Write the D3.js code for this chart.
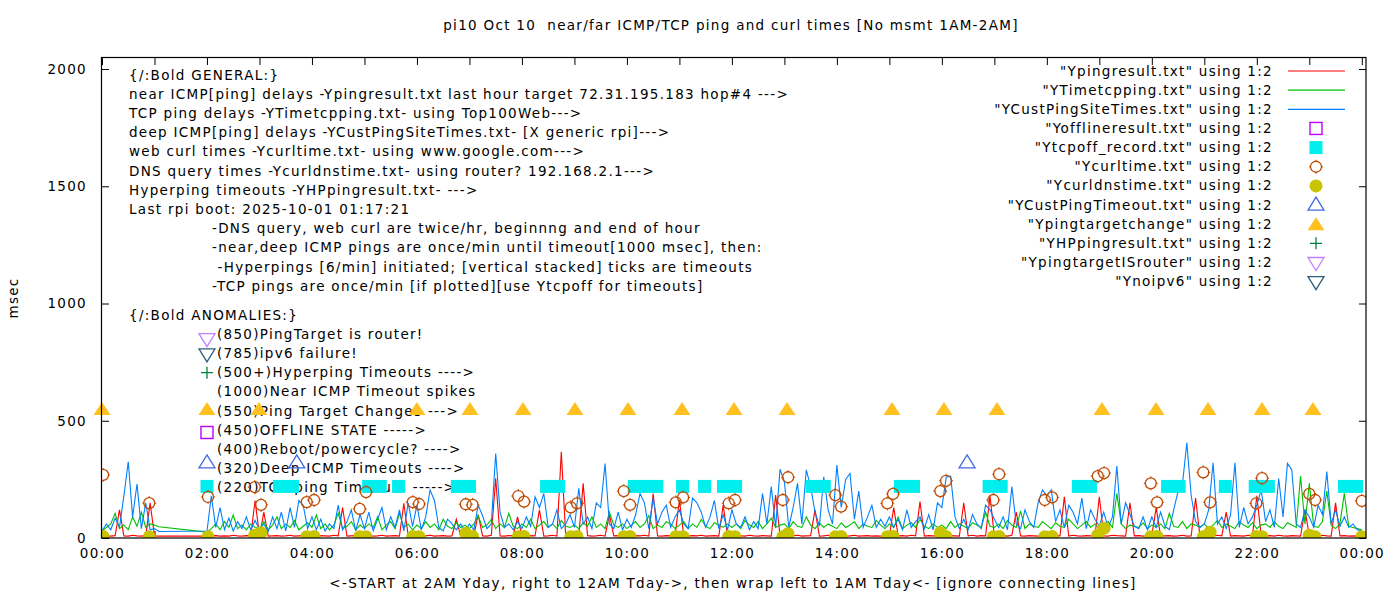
<!DOCTYPE html>
<html>
<head>
<meta charset="utf-8">
<script src="https://cdn.jsdelivr.net/npm/d3@7"></script>
<style>
body { margin: 0; background: #fff; }
text { font-family: "DejaVu Sans", sans-serif; font-size: 13.5px; letter-spacing: 1.3px; fill: #000; white-space: pre; }
</style>
</head>
<body>
<svg id="chart" width="1400" height="600"></svg>
<script>
// ---- data ----
var STEP_MIN = 5;   // one value every 5 minutes, 00:00 .. 24:00

// YCustPingSiteTimes.txt (blue) - deep ICMP ping delays
var custPing = [
  30, 60, 35, 85, 45, 180, 325, 90, 230, 40, 150, 35,
  40, 28, null, null, null, null, null, null, null, null, null, null,
  30, 180, 45, 130, 35, 85, 30, 70, 40, 90, 35, 75,
  35, 60, 28, 90, 40, 110, 30, 130, 45, 160, 140, 40,
  90, 35, 80, 30, 60, 40, 140, 35, 70, 120, 30, 100,
  40, 110, 30, 80, 130, 35, 90, 45, 120, 30, 150, 50,
  140, 35, 90, 205, 160, 45, 30, 80, 60, 35, 60, 30,
  60, 35, 140, 95, 40, 60, 360, 110, 45, 60, 35, 70,
  40, 90, 50, 176, 130, 190, 45, 60, 120, 40, 60, 100,
  45, 212, 60, 90, 40, 150, 130, 318, 60, 40, 110, 35,
  80, 45, 100, 190, 150, 40, 170, 60, 110, 140, 45, 90,
  120, 60, 40, 170, 150, 110, 45, 90, 160, 40, 100, 35,
  120, 60, 45, 90, 35, 70, 40, 190, 60, 219, 45, 293,
  240, 45, 130, 233, 60, 290, 220, 110, 50, 261, 120, 60,
  311, 130, 250, 275, 80, 200, 45, 90, 140, 45, 80, 50,
  90, 45, 80, 35, 120, 45, 70, 90, 40, 100, 35, 150,
  130, 260, 264, 90, 40, 80, 35, 100, 60, 40, 140, 120,
  80, 45, 90, 35, 219, 60, 40, 120, 70, 45, 150, 205,
  180, 205, 70, 120, 45, 140, 110, 60, 170, 40, 120, 80,
  50, 110, 45, 90, 307, 60, 150, 100, 50, 40, 90, 35,
  90, 45, 110, 50, 35, 120, 200, 230, 406, 180, 70, 45,
  60, 120, 321, 60, 90, 40, 100, 321, 45, 130, 60, 90,
  140, 205, 70, 120, 45, 254, 90, 318, 290, 60, 45, 120,
  90, 45, 140, 100, 283, 60, 120, 50, 90, 45, 60, 35,
  30
];

// YTimetcpping.txt (green) - TCP ping delays
var tcpPing = [
  30, 45, 60, 105, 40, 55, 35, 90, 50, 110, 45, 60,
  55, 48, null, null, null, null, null, null, null, null, null, null,
  25, 40, 60, 35, 70, 45, 98, 40, 55, 35, 60, 45,
  40, 70, 35, 55, 90, 40, 60, 45, 75, 35, 50, 65,
  45, 98, 40, 60, 35, 55, 105, 40, 50, 70, 35, 55,
  40, 60, 45, 90, 35, 55, 70, 40, 105, 45, 60, 35,
  55, 40, 70, 45, 60, 35, 80, 50, 40, 65, 45, 55,
  40, 60, 95, 45, 55, 80, 40, 60, 45, 105, 50, 40,
  60, 45, 80, 40, 55, 70, 45, 60, 40, 75, 50, 45,
  55, 40, 65, 50, 90, 45, 60, 40, 110, 55, 45, 60,
  40, 55, 70, 45, 60, 95, 40, 55, 45, 70, 60, 40,
  55, 70, 40, 60, 45, 80, 50, 40, 65, 55, 45, 60,
  45, 60, 40, 75, 55, 45, 70, 40, 60, 85, 45, 55,
  60, 40, 70, 50, 45, 90, 55, 40, 65, 45, 60, 50,
  40, 65, 45, 55, 70, 40, 60, 50, 45, 75, 55, 40,
  60, 45, 90, 40, 55, 65, 45, 80, 50, 40, 60, 45,
  55, 40, 70, 45, 60, 50, 40, 65, 55, 45, 110, 50,
  45, 60, 40, 75, 55, 45, 115, 40, 60, 50, 45, 70,
  55, 40, 65, 50, 45, 80, 60, 40, 55, 70, 45, 60,
  40, 55, 70, 45, 190, 60, 40, 55, 50, 45, 65, 40,
  55, 45, 60, 40, 105, 50, 45, 70, 40, 60, 55, 45,
  60, 40, 55, 75, 45, 60, 50, 40, 70, 55, 45, 65,
  40, 55, 60, 45, 70, 50, 40, 65, 55, 45, 264, 60,
  233, 50, 45, 70, 200, 55, 40, 60, 190, 50, 45, 40,
  35
];

// Ypingresult.txt (red) - near ICMP ping delays
var nearPing = [
  8, 9, 8, 10, 120, 9, 8, 12, 9, 8, 10, 150,
  9, 8, null, null, null, null, null, null, null, null, null, null,
  8, 9, 10, 8, 9, 8, 12, 9, 8, 10, 9, 160,
  9, 110, 8, 9, 10, 8, 9, 12, 8, 9, 10, 8,
  9, 8, 10, 9, 8, 12, 9, 130, 8, 9, 10, 8,
  9, 10, 8, 9, 12, 8, 9, 10, 8, 148, 9, 8,
  10, 8, 9, 12, 8, 9, 10, 8, 9, 80, 8, 9,
  8, 10, 100, 9, 8, 12, 255, 9, 8, 10, 9, 90,
  9, 8, 10, 9, 120, 8, 9, 12, 8, 368, 9, 10,
  8, 9, 233, 10, 8, 9, 12, 8, 100, 9, 10, 8,
  9, 8, 10, 9, 12, 8, 190, 9, 8, 10, 9, 8,
  162, 9, 8, 10, 9, 12, 8, 9, 10, 8, 140, 9,
  8, 10, 9, 8, 12, 9, 8, 10, 9, 8, 183, 9,
  10, 8, 9, 12, 8, 9, 10, 120, 8, 9, 12, 8,
  9, 10, 8, 9, 12, 8, 9, 10, 8, 9, 8, 10,
  8, 130, 9, 10, 8, 12, 9, 155, 8, 10, 9, 8,
  9, 8, 10, 9, 8, 150, 9, 12, 8, 10, 9, 180,
  8, 9, 10, 8, 12, 110, 9, 8, 10, 9, 8, 12,
  9, 8, 10, 9, 176, 8, 12, 9, 8, 10, 9, 8,
  176, 9, 8, 12, 10, 9, 8, 150, 9, 10, 8, 9,
  12, 130, 8, 9, 10, 8, 9, 12, 8, 9, 170, 8,
  9, 10, 8, 12, 9, 110, 8, 10, 9, 8, 12, 9,
  180, 8, 9, 10, 8, 12, 9, 8, 10, 9, 8, 120,
  9, 10, 8, 12, 9, 8, 150, 9, 10, 8, 9, 8,
  9
];

// Ycurltime.txt (open circles) and Ycurldnstime.txt (filled circles), hours
var curlTimes = [0.02, 0.9, 2.02, 2.91, 3.03, 3.9, 4.04, 4.91, 5.03, 5.92, 6.04, 6.93, 7.06, 7.93, 8.04,
  8.93, 9.05, 9.94, 10.06, 10.93, 11.07, 11.94, 12.06, 12.97, 13.07, 13.97, 14.08, 14.96, 15.07,
  15.97, 16.08, 16.98, 17.09, 17.96, 18.1, 18.97, 19.09, 19.98, 20.1, 20.98, 21.11, 21.99, 22.1,
  23.0, 23.11, 24.0];
var curlValues = [269, 149, 175, 217, 141, 153, 162, 124, 196, 153, 145, 144, 141, 179, 155,
  131, 148, 200, 141, 152, 173, 148, 162, 162, 259, 183, 134, 148, 188,
  200, 244, 162, 272, 162, 173, 264, 277, 233, 152, 280, 152, 148, 255,
  188, 162, 158];
var dnsValues = [6, 5, 5, 12, 22, 5, 6, 5, 5, 6, 5, 20, 6, 5, 6,
  5, 6, 5, 6, 5, 5, 6, 5, 5, 18, 5, 6, 5, 6,
  22, 6, 5, 6, 5, 6, 12, 42, 5, 6, 5, 25, 6, 5,
  12, 5, 5];

// Ytcpoff_record.txt - TCP ping timeout runs (start/end hour), plotted at 220
var tcpoffStart = [3.38, 5.08, 5.65, 6.77, 8.47, 10.14, 11.06, 11.48, 11.84, 13.53, 15.21, 16.9, 18.6, 20.3, 21.4, 21.97, 23.67];
var tcpoffEnd   = [3.63, 5.30, 5.65, 7.00, 8.70, 10.57, 11.06, 11.48, 12.07, 13.76, 15.46, 17.13, 18.83, 20.52, 21.4, 22.22, 23.9];
var tcpoffLevel = 220;

// YCustPingTimeout.txt (open triangles)
var custTimeoutTimes = [3.71, 16.48];
var custTimeoutValues = [320, 320];

// Ypingtargetchange (filled triangles)
var targetChangeTimes = [0, 2.99, 6.0, 7.01, 8.02, 9.01, 10.02, 11.05, 12.04, 13.05, 15.05, 16.04, 17.05, 19.05, 20.08, 21.07, 22.1, 23.07];
var targetChangeLevel = 550;

var yTicks = [0, 500, 1000, 1500, 2000];
var xTickHours = d3.range(0, 25);
var xTickLabels = ["00:00", "02:00", "04:00", "06:00", "08:00", "10:00", "12:00",
  "14:00", "16:00", "18:00", "20:00", "22:00", "00:00"];

var titleText = "pi10 Oct 10  near/far ICMP/TCP ping and curl times [No msmt 1AM-2AM]";
var xLabelText = "<-START at 2AM Yday, right to 12AM Tday->, then wrap left to 1AM Tday<- [ignore connecting lines]";
var yLabelText = "msec";

var generalLines = [
  "{/:Bold GENERAL:}",
  "near ICMP[ping] delays -Ypingresult.txt last hour target 72.31.195.183 hop#4 --->",
  "TCP ping delays -YTimetcpping.txt- using Top100Web--->",
  "deep ICMP[ping] delays -YCustPingSiteTimes.txt- [X generic rpi]--->",
  "web curl times -Ycurltime.txt- using www.google.com--->",
  "DNS query times -Ycurldnstime.txt- using router? 192.168.2.1--->",
  "Hyperping timeouts -YHPpingresult.txt- --->",
  "Last rpi boot: 2025-10-01 01:17:21",
  "-DNS query, web curl are twice/hr, beginnng and end of hour",
  "-near,deep ICMP pings are once/min until timeout[1000 msec], then:",
  " -Hyperpings [6/min] initiated; [vertical stacked] ticks are timeouts",
  "-TCP pings are once/min [if plotted][use Ytcpoff for timeouts]"
];
var anomaliesHead = "{/:Bold ANOMALIES:}";
var anomalyLabels = [
  "(850)PingTarget is router!",
  "(785)ipv6 failure!",
  "(500+)Hyperping Timeouts ---->",
  "(1000)Near ICMP Timeout spikes",
  "(550)Ping Target Changes --->",
  "(450)OFFLINE STATE ----->",
  "(400)Reboot/powercycle? ---->",
  "(320)Deep ICMP Timeouts ---->",
  "(220)TCP ping Timeouts ----->"
];
var anomalyKeyValues = [850, 785, 705, null, 550, 450, null, 320, 220];
var anomalyKeyKinds = ["isrouter", "noipv6", "hp", null, "target", "offline", null, "custTimeout", "tcpoff"];
var anomalyKeyHour = 2;

var legendLabels = [
  "\"Ypingresult.txt\" using 1:2",
  "\"YTimetcpping.txt\" using 1:2",
  "\"YCustPingSiteTimes.txt\" using 1:2",
  "\"Yofflineresult.txt\" using 1:2",
  "\"Ytcpoff_record.txt\" using 1:2",
  "\"Ycurltime.txt\" using 1:2",
  "\"Ycurldnstime.txt\" using 1:2",
  "\"YCustPingTimeout.txt\" using 1:2",
  "\"Ypingtargetchange\" using 1:2",
  "\"YHPpingresult.txt\" using 1:2",
  "\"YpingtargetISrouter\" using 1:2",
  "\"Ynoipv6\" using 1:2"
];
var legendKinds = ["red", "green", "blue", "offline", "tcpoff", "curl", "dns", "custTimeout", "target", "hp", "isrouter", "noipv6"];

// ---- drawing ----
var colors = {red: "#ff0000", green: "#00c000", blue: "#0080ff", offline: "#c000ff", tcpoff: "#00eeee",
  curl: "#c04a00", dns: "#c8c400", custTimeout: "#4169e1", target: "#ffc020", hp: "#008040",
  isrouter: "#c080ff", noipv6: "#2f5f7f"};

var svg = d3.select("#chart");
svg.append("rect").attr("width", 1400).attr("height", 600).attr("fill", "#fff");

var x = d3.scaleLinear().domain([0, 24.08]).range([102, 1366]);
var y = d3.scaleLinear().domain([0, 2047]).range([538, 58]);

svg.append("clipPath").attr("id", "clip")
  .append("rect").attr("x", 102).attr("y", 58).attr("width", 1264).attr("height", 480);

// texts (drawn first, points go on top like gnuplot)
svg.append("text").attr("x", 731).attr("y", 30).attr("text-anchor", "middle")
  .attr("xml:space", "preserve").text(titleText);
svg.append("text").attr("x", 733).attr("y", 588).attr("text-anchor", "middle").text(xLabelText);
svg.append("text").attr("transform", "translate(18,298) rotate(-90)").attr("text-anchor", "middle").text(yLabelText);

var rowH = 19.2;
svg.append("g").selectAll("text").data(generalLines).enter().append("text")
  .attr("x", function(d, i) { return i >= 8 ? 212 : 129; })
  .attr("y", function(d, i) { return 79.5 + i * rowH; })
  .attr("xml:space", "preserve")
  .text(function(d) { return d; });
svg.append("text").attr("x", 129).attr("y", 79.5 + 12.5 * rowH).text(anomaliesHead);
svg.append("g").selectAll("text").data(anomalyLabels).enter().append("text")
  .attr("x", 217)
  .attr("y", function(d, i) { return 79.5 + (13.5 + i) * rowH; })
  .text(function(d) { return d; });

// axes with inward ticks on all four sides
var xAxisB = d3.axisBottom(x).tickValues(xTickHours).tickSize(-7).tickPadding(10)
  .tickFormat(function(h) { return h % 2 ? "" : xTickLabels[h / 2]; });
svg.append("g").attr("transform", "translate(0,538)").call(xAxisB)
  .call(function(g) { g.select(".domain").remove(); });
svg.append("g").attr("transform", "translate(0,58)")
  .call(d3.axisTop(x).tickValues(xTickHours).tickSize(-7).tickFormat(""))
  .call(function(g) { g.select(".domain").remove(); });
svg.append("g").attr("transform", "translate(102,0)")
  .call(d3.axisLeft(y).tickValues(yTicks).tickSize(-7).tickPadding(15).tickFormat(d3.format("d")))
  .call(function(g) { g.select(".domain").remove(); });
svg.append("g").attr("transform", "translate(1366,0)")
  .call(d3.axisRight(y).tickValues(yTicks).tickSize(-7).tickFormat(""))
  .call(function(g) { g.select(".domain").remove(); });

// symbols
function drawSym(g, kind, cx, cy) {
  var c = colors[kind];
  if (kind === "offline") {
    g.append("rect").attr("x", cx - 6).attr("y", cy - 6).attr("width", 12).attr("height", 12)
      .attr("fill", "none").attr("stroke", c).attr("stroke-width", 1.4);
  } else if (kind === "tcpoff") {
    g.append("rect").attr("x", cx - 6.5).attr("y", cy - 6.5).attr("width", 13).attr("height", 13).attr("fill", c);
  } else if (kind === "curl") {
    g.append("circle").attr("cx", cx).attr("cy", cy).attr("r", 5.5)
      .attr("fill", "none").attr("stroke", c).attr("stroke-width", 1.3);
    g.append("path").attr("stroke", c).attr("stroke-width", 1)
      .attr("d", "M" + cx + "," + (cy - 7) + "v2M" + cx + "," + (cy + 5) + "v2M" + (cx - 7) + "," + cy + "h2M" + (cx + 5) + "," + cy + "h2");
  } else if (kind === "dns") {
    g.append("circle").attr("cx", cx).attr("cy", cy).attr("r", 6.5).attr("fill", c);
  } else if (kind === "custTimeout") {
    g.append("path").attr("d", "M" + cx + "," + (cy - 8) + "L" + (cx + 8) + "," + (cy + 5) + "L" + (cx - 8) + "," + (cy + 5) + "Z")
      .attr("fill", "none").attr("stroke", c).attr("stroke-width", 1.3);
  } else if (kind === "target") {
    g.append("path").attr("d", "M" + cx + "," + (cy - 7) + "L" + (cx + 8.5) + "," + (cy + 6) + "L" + (cx - 8.5) + "," + (cy + 6) + "Z")
      .attr("fill", c);
  } else if (kind === "hp") {
    g.append("path").attr("d", "M" + (cx - 6) + "," + cy + "h12M" + cx + "," + (cy - 6) + "v12")
      .attr("stroke", c).attr("stroke-width", 1.3);
  } else if (kind === "isrouter" || kind === "noipv6") {
    g.append("path").attr("d", "M" + cx + "," + (cy + 8) + "L" + (cx + 8) + "," + (cy - 5) + "L" + (cx - 8) + "," + (cy - 5) + "Z")
      .attr("fill", "none").attr("stroke", c).attr("stroke-width", 1.3);
  } else {
    g.append("line").attr("x1", cx - 28).attr("x2", cx + 29).attr("y1", cy).attr("y2", cy)
      .attr("stroke", c).attr("stroke-width", 1.2);
  }
}

// anomaly key symbols, in data coords at 02:00
var keys = svg.append("g");
anomalyKeyKinds.forEach(function(k, i) {
  if (k) drawSym(keys, k, x(anomalyKeyHour), y(anomalyKeyValues[i]));
});

// lines
var plot = svg.append("g").attr("clip-path", "url(#clip)");
function pts(arr) {
  return arr.map(function(v, i) { return [i * STEP_MIN / 60, v]; })
    .filter(function(d) { return d[1] !== null; });
}
var line = d3.line().x(function(d) { return x(d[0]); }).y(function(d) { return y(d[1]); });
[[nearPing, "red"], [tcpPing, "green"], [custPing, "blue"]].forEach(function(s) {
  plot.append("path").datum(pts(s[0])).attr("d", line)
    .attr("fill", "none").attr("stroke", colors[s[1]]).attr("stroke-width", 1.1);
});

// tcp timeout runs
plot.selectAll("rect.tcpoff").data(tcpoffStart).enter().append("rect").attr("class", "tcpoff")
  .attr("x", function(d) { return x(d) - 6.5; })
  .attr("width", function(d, i) { return x(tcpoffEnd[i]) - x(d) + 13; })
  .attr("y", y(tcpoffLevel) - 6.5).attr("height", 13)
  .attr("fill", colors.tcpoff);

curlTimes.forEach(function(t, i) { drawSym(plot, "curl", x(t), y(curlValues[i])); });
curlTimes.forEach(function(t, i) { drawSym(plot, "dns", x(t), y(dnsValues[i])); });
custTimeoutTimes.forEach(function(t, i) { drawSym(plot, "custTimeout", x(t), y(custTimeoutValues[i])); });
targetChangeTimes.forEach(function(t) { drawSym(svg, "target", x(t), y(targetChangeLevel)); });

// frame
svg.append("rect").attr("x", 101.5).attr("y", 57.5).attr("width", 1264.5).attr("height", 480.5)
  .attr("fill", "none").attr("stroke", "#000").attr("stroke-width", 1.2);

// legend
var leg = svg.append("g");
legendLabels.forEach(function(lbl, i) {
  var cy = 71 + i * 19.15;
  leg.append("text").attr("x", 1273).attr("y", cy + 4.5).attr("text-anchor", "end").text(lbl);
  drawSym(leg, legendKinds[i], 1316, cy);
});
</script>
</body>
</html>
